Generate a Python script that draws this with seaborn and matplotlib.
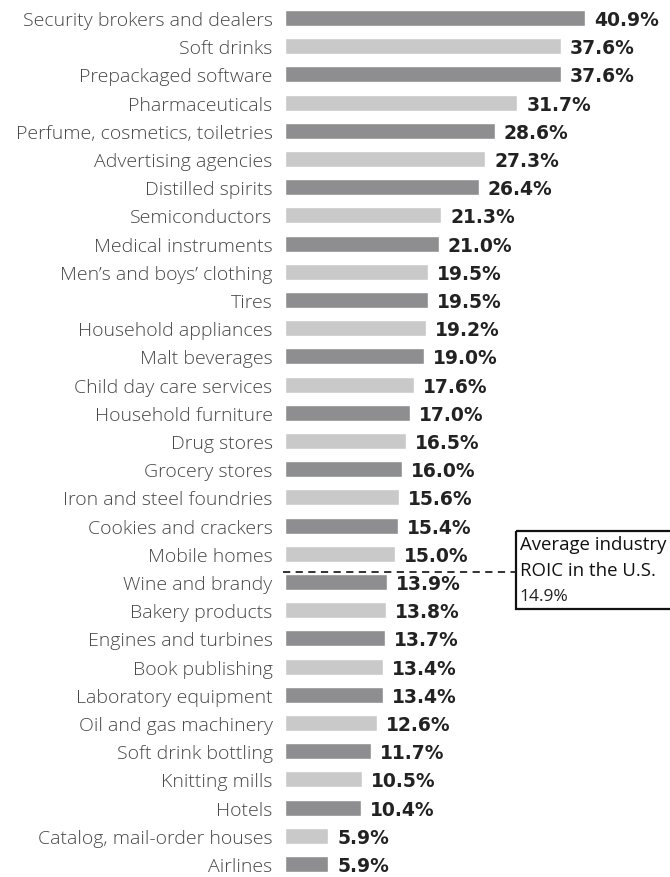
import matplotlib
matplotlib.use("Agg")
import matplotlib.pyplot as plt
import seaborn as sns
import pandas as pd
from matplotlib.patches import Rectangle

categories = [
    "Security brokers and dealers", "Soft drinks", "Prepackaged software",
    "Pharmaceuticals", "Perfume, cosmetics, toiletries", "Advertising agencies",
    "Distilled spirits", "Semiconductors", "Medical instruments",
    "Men\u2019s and boys\u2019 clothing", "Tires", "Household appliances",
    "Malt beverages", "Child day care services", "Household furniture",
    "Drug stores", "Grocery stores", "Iron and steel foundries",
    "Cookies and crackers", "Mobile homes", "Wine and brandy",
    "Bakery products", "Engines and turbines", "Book publishing",
    "Laboratory equipment", "Oil and gas machinery", "Soft drink bottling",
    "Knitting mills", "Hotels", "Catalog, mail-order houses", "Airlines",
]
roic = [40.9, 37.6, 37.6, 31.7, 28.6, 27.3, 26.4, 21.3, 21.0, 19.5, 19.5,
        19.2, 19.0, 17.6, 17.0, 16.5, 16.0, 15.6, 15.4, 15.0, 13.9, 13.8,
        13.7, 13.4, 13.4, 12.6, 11.7, 10.5, 10.4, 5.9, 5.9]
value_labels = ["40.9%", "37.6%", "37.6%", "31.7%", "28.6%", "27.3%", "26.4%",
                "21.3%", "21.0%", "19.5%", "19.5%", "19.2%", "19.0%", "17.6%",
                "17.0%", "16.5%", "16.0%", "15.6%", "15.4%", "15.0%", "13.9%",
                "13.8%", "13.7%", "13.4%", "13.4%", "12.6%", "11.7%", "10.5%",
                "10.4%", "5.9%", "5.9%"]
average_value = 14.9
average_label = ["Average industry", "ROIC in the U.S.", "14.9%"]

shade = ["dark" if i % 2 == 0 else "light" for i in range(len(categories))]
df = pd.DataFrame({"category": categories, "roic": roic, "shade": shade})

sns.set_theme(style="white")
plt.rcParams["font.family"] = ["Open Sans", "DejaVu Sans"]

fig = plt.figure(figsize=(6.7, 8.78), dpi=100)
ax = fig.add_axes([0.4254, 0.0, 0.5746, 1.0])

sns.barplot(data=df, x="roic", y="category", hue="shade",
            palette={"dark": "#8e8e90", "light": "#c9c9c9"},
            dodge=False, legend=False, width=0.57, orient="h", ax=ax,
            saturation=1)

ax.set_xlim(0, 52.5)
ax.set_ylim(30.46, -0.674)
ax.set_xlabel("")
ax.set_ylabel("")
ax.set_xticks([])
for s in ax.spines.values():
    s.set_visible(False)
ax.tick_params(axis="y", length=0, pad=9)
for t in ax.get_yticklabels():
    t.set_fontsize(14)
    t.set_color("#474747")
    t.set_fontweight("light")

for i, (v, lab) in enumerate(zip(roic, value_labels)):
    ax.text(v + 1.2, i + 0.05, lab, va="center", ha="left",
            fontsize=13.5, fontweight="bold", color="#222222",
            family="DejaVu Sans")

# average line and box
line_y = 19.65
ax.plot([-0.3, 31.5], [line_y, line_y], ls=(0, (4, 3)), color="#222222",
        lw=1.3, clip_on=False)
box = Rectangle((31.5, 18.19), 30, 2.77, fill=False, edgecolor="#111111",
                lw=1.6, clip_on=False)
ax.add_patch(box)
ax.text(32.0, 18.66, average_label[0], va="center", ha="left", fontsize=13.4,
        color="#111111")
ax.text(32.0, 19.57, average_label[1], va="center", ha="left", fontsize=13.4,
        color="#111111")
ax.text(32.0, 20.48, average_label[2], va="center", ha="left", fontsize=12.5,
        color="#222222")

fig.savefig("out.png", dpi=100)
